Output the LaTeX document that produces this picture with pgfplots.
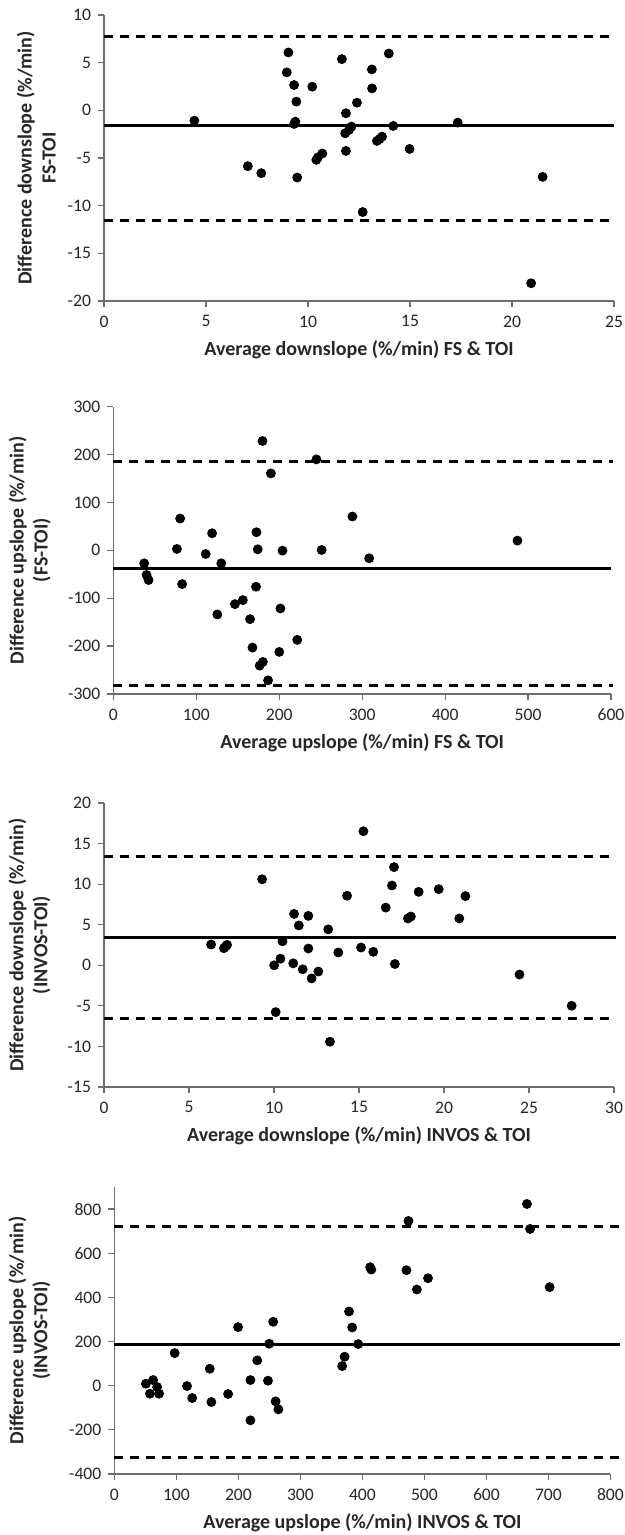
\documentclass[border=0pt]{standalone}
\usepackage{fontspec}
\setmainfont{Carlito}
\usepackage{pgfplots}
\pgfplotsset{compat=1.18}

\definecolor{axisgray}{RGB}{110,110,110}
\definecolor{textgray}{RGB}{38,38,38}

% 1 px of the reference = 0.5pt
\pgfplotsset{
  ba/.style={
    scale only axis,
    anchor=north west,
    axis lines=left,
    axis line style={-, draw=axisgray, line width=0.6pt},
    tick align=outside,
    major tick length=3pt,
    tick style={draw=axisgray, line width=0.6pt},
    minor tick num=0,
    ticklabel style={font=\fontsize{8.8}{10}\selectfont, text=textgray},
    xticklabel style={yshift=-0.8pt},
    /pgf/number format/assume math mode=true,
    clip=false,
    label style={font=\bfseries\fontsize{10}{12}\selectfont, text=textgray},
    ylabel style={align=center, anchor=center},
    xlabel style={at={(axis description cs:0.5,0)}, anchor=center, yshift=-24.5pt},
  },
  pts/.style={only marks, mark=*, mark size=2.25pt, black},
  mean/.style={no marks, black, line width=1.5pt},
  loa/.style={no marks, black, line width=1.5pt, dash pattern=on 4.5pt off 3.5pt},
}

\begin{document}
\begin{tikzpicture}
\path[use as bounding box] (0,0) rectangle (312.5pt,-767.5pt);

% Panel 1
\begin{axis}[ba,
  at={(52pt,-7.5pt)}, width=255pt, height=143pt,
  xmin=0, xmax=25, ymin=-20, ymax=10,
  xtick={0,5,...,25}, ytick={-20,-15,...,10},
  ylabel style={at={(axis description cs:-0.133,0.5)}},
  ylabel={Difference downslope (\%/min)\\FS-TOI},
  xlabel={Average downslope (\%/min) FS \& TOI}]
\addplot[loa] coordinates {(0,7.77) (25,7.77)};
\addplot[loa] coordinates {(0,-11.55) (25,-11.55)};
\addplot[mean] coordinates {(0,-1.6) (25,-1.6)};
\addplot[pts] coordinates {
(4.43,-1.08) (7.05,-5.86) (7.71,-6.59) (9.04,6.07) (8.96,3.98) (9.32,2.65)
(9.43,0.91) (9.38,-1.19) (9.32,-1.43) (9.47,-7.05) (10.21,2.48) (10.41,-5.2)
(10.49,-4.92) (10.70,-4.53) (11.66,5.37) (11.86,-0.31) (11.82,-2.41) (12.01,-2.06)
(12.13,-1.71) (11.86,-4.26) (12.40,0.80) (12.68,-10.67) (13.13,4.29) (13.14,2.30)
(13.38,-3.21) (13.50,-3.03) (13.63,-2.76) (13.96,5.96) (14.18,-1.64) (14.98,-4.05)
(17.34,-1.29) (21.5,-6.98) (20.94,-18.14)
};
\end{axis}

% Panel 2
\begin{axis}[ba,
  at={(56.7pt,-203.3pt)}, width=248.8pt, height=143.7pt,
  xmin=0, xmax=600, ymin=-300, ymax=300,
  xtick={0,100,...,600}, ytick={-300,-200,...,300},
  ylabel style={at={(axis description cs:-0.168,0.5)}},
  ylabel={Difference upslope (\%/min)\\(FS-TOI)},
  xlabel={Average upslope (\%/min) FS \& TOI}]
\addplot[loa] coordinates {(0,186) (602,186)};
\addplot[loa] coordinates {(0,-283) (602,-283)};
\addplot[mean] coordinates {(0,-37) (600,-37)};
\addplot[pts] coordinates {
(37.1,-27.2) (40,-51.6) (42.4,-62.1) (76.6,2.8) (80.5,66.3) (82.9,-70.5)
(111.3,-7.7) (119,35.6) (130.1,-27.2) (125.3,-134) (146.5,-112.4) (156.1,-104)
(164.8,-143.8) (167.7,-203.1) (172.5,37.7) (174,2.1) (172,-76.1) (179.8,228.2)
(176.4,-240.8) (180.2,-233.1) (189.9,160.5) (186.5,-271.5) (200,-212.1) (201.4,-121.4)
(203.9,-0.7) (221.7,-187) (244.8,189.8) (251.1,0.7) (288.2,70.5) (308.4,-16.7)
(487.2,20.2)
};
\end{axis}

% Panel 3
\begin{axis}[ba,
  at={(52pt,-401.5pt)}, width=255pt, height=142pt,
  xmin=0, xmax=30, ymin=-15, ymax=20,
  xtick={0,5,...,30}, ytick={-15,-10,...,20},
  ylabel style={at={(axis description cs:-0.146,0.5)}},
  ylabel={Difference downslope (\%/min)\\(INVOS-TOI)},
  xlabel={Average downslope (\%/min) INVOS \& TOI}]
\addplot[loa] coordinates {(0,13.38) (30.1,13.38)};
\addplot[loa] coordinates {(0,-6.54) (30.1,-6.54)};
\addplot[mean] coordinates {(0,3.37) (30.1,3.37)};
\addplot[pts] coordinates {
(6.30,2.56) (7.05,2.11) (7.17,2.35) (7.24,2.52) (9.30,10.60) (10.01,0.0)
(10.10,-5.77) (10.38,0.81) (10.50,2.96) (11.13,0.24) (11.18,6.33) (11.46,4.91)
(11.69,-0.49) (12.02,6.09) (12.02,2.07) (12.21,-1.62) (12.61,-0.77) (13.19,4.43)
(13.29,-9.42) (13.78,1.58) (14.30,8.57) (15.12,2.19) (15.26,16.52) (15.84,1.66)
(16.57,7.11) (16.94,9.83) (17.06,12.10) (17.11,0.16) (17.88,5.77) (18.05,6.01)
(18.51,9.05) (19.69,9.38) (20.90,5.77) (21.26,8.53) (24.44,-1.14) (27.51,-4.99)
};
\end{axis}

% Panel 4
\begin{axis}[ba,
  at={(57.2pt,-593.5pt)}, width=248pt, height=143.5pt,
  xmin=0, xmax=800, ymin=-400, ymax=900,
  xtick={0,100,...,800}, ytick={-400,-200,...,800},
  ylabel style={at={(axis description cs:-0.171,0.5)}},
  ylabel={Difference upslope (\%/min)\\(INVOS-TOI)},
  xlabel={Average upslope (\%/min) INVOS \& TOI}]
\addplot[loa] coordinates {(0,719) (815,719)};
\addplot[loa] coordinates {(0,-326) (815,-326)};
\addplot[mean] coordinates {(0,187) (815,187)};
\addplot[pts] coordinates {
(50.8,9.0) (57.3,-36.2) (62.4,25.6) (68.9,-6.0) (72.1,-36.2) (97.2,147.7)
(117.1,-1.5) (125.5,-55.8) (153.8,76.9) (156.4,-73.9) (183.4,-37.7) (199.5,265.3)
(219.4,25.6) (219.4,-156.8) (230.4,114.6) (247.7,22.6) (249.7,190) (256.1,289.5)
(260,-70.9) (264.5,-107) (367.4,88.9) (371.3,131.2) (378.4,336.2) (383.5,263.8)
(393.2,188.5) (412.5,536.7) (414.4,526.2) (471,523.1) (474.3,746.3) (487.8,435.7)
(505.8,487) (665.4,823.2) (670.5,710.1) (702,446.3)
};
\end{axis}
\end{tikzpicture}
\end{document}
